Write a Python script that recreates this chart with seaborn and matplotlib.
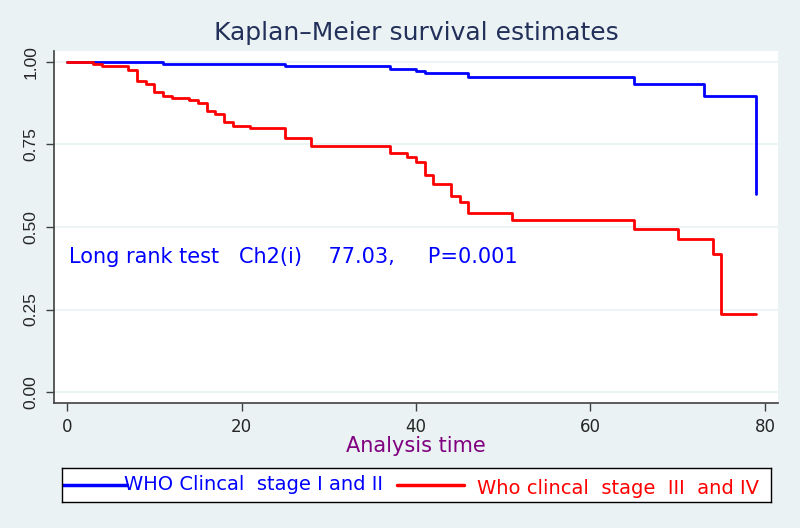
import numpy as np
import pandas as pd
import matplotlib
matplotlib.use('Agg')
import matplotlib.pyplot as plt
import seaborn as sns

# Kaplan-Meier step estimates
stage12_time = [0, 11, 25, 37, 40, 41, 46, 65, 73, 79]
stage12_surv = [1.0, 0.993, 0.988, 0.980, 0.973, 0.966, 0.954, 0.933, 0.896, 0.600]

stage34_time = [0, 3, 4, 7, 8, 9, 10, 11, 12, 14, 15, 16, 17, 18, 19, 21, 25, 28,
                37, 39, 40, 41, 42, 44, 45, 46, 51, 65, 70, 74, 75, 79]
stage34_surv = [1.0, 0.994, 0.989, 0.976, 0.942, 0.932, 0.910, 0.898, 0.892, 0.885,
                0.877, 0.852, 0.843, 0.817, 0.807, 0.799, 0.770, 0.745, 0.724, 0.713,
                0.698, 0.657, 0.629, 0.595, 0.577, 0.543, 0.520, 0.493, 0.463, 0.417,
                0.238, 0.238]

group_labels = ['WHO Clincal  stage I and II', 'Who clincal  stage  III  and IV']
group_colors = ['#0000FF', '#FF0000']
x_ticks = [0, 20, 40, 60, 80]
y_ticks = [0.0, 0.25, 0.5, 0.75, 1.0]

df = pd.concat([
    pd.DataFrame({'time': stage12_time, 'surv': stage12_surv, 'group': group_labels[0]}),
    pd.DataFrame({'time': stage34_time, 'surv': stage34_surv, 'group': group_labels[1]}),
], ignore_index=True)

sns.set_style('white')
plt.rcParams['font.family'] = ['DejaVu Sans']

bg = '#EAF2F3'
fig = plt.figure(figsize=(8, 5.28), dpi=100, facecolor=bg)
ax = fig.add_axes([54/800, 1 - 403/528, 724/800, 352/528])
ax.set_facecolor('white')

sns.lineplot(data=df, x='time', y='surv', hue='group', hue_order=group_labels,
             palette=group_colors, drawstyle='steps-post', estimator=None,
             linewidth=2, legend=False, ax=ax)

ax.set_xlim(-1.5, 81.5)
ax.set_ylim(-0.033, 1.033)
ax.set_xticks(x_ticks)
ax.set_yticks(y_ticks)
ax.set_yticklabels([f'{v:.2f}' for v in y_ticks], rotation=90, va='center',
                   family='Liberation Sans', fontsize=12.5)
ax.tick_params(axis='x', labelsize=12)
ax.tick_params(axis='both', length=6, width=1, color='#404040',
               direction='out', bottom=True, left=True)
ax.tick_params(axis='x', pad=5)
ax.tick_params(axis='y', pad=5)
ax.grid(axis='y', color=bg, linewidth=1.2)
ax.grid(axis='x', visible=False)
for side in ['top', 'right']:
    ax.spines[side].set_visible(False)
for side in ['left', 'bottom']:
    ax.spines[side].set_color('#404040')
    ax.spines[side].set_linewidth(1.2)

ax.set_xlabel('Analysis time', fontsize=15, color='#800080', labelpad=0)
ax.set_ylabel('')
ax.set_title('Kaplan\u2013Meier survival estimates', fontsize=18, color='#22305A', pad=8)

ax.text(0.2, 0.41, 'Long rank test   Ch2(i)    77.03,     P=0.001',
        color='#0000FF', fontsize=15, va='center', ha='left')

# legend box
lax = fig.add_axes([62/800, 1 - 502/528, 709/800, 34/528])
lax.set_facecolor('white')
lax.set_xlim(0, 1)
lax.set_ylim(0, 1)
lax.set_xticks([])
lax.set_yticks([])
for s in lax.spines.values():
    s.set_visible(True)
    s.set_color('black')
    s.set_linewidth(1)
lax.plot([0, 0.092], [0.5, 0.5], color=group_colors[0], linewidth=2.5)
lax.text(0.087, 0.5, group_labels[0], color=group_colors[0], fontsize=14,
         va='center', ha='left')
lax.plot([0.4725, 0.567], [0.5, 0.5], color=group_colors[1], linewidth=2.5)
lax.text(0.585, 0.4, group_labels[1], color=group_colors[1], fontsize=14,
         va='center', ha='left')

fig.savefig('out.png', dpi=100, facecolor=bg)
